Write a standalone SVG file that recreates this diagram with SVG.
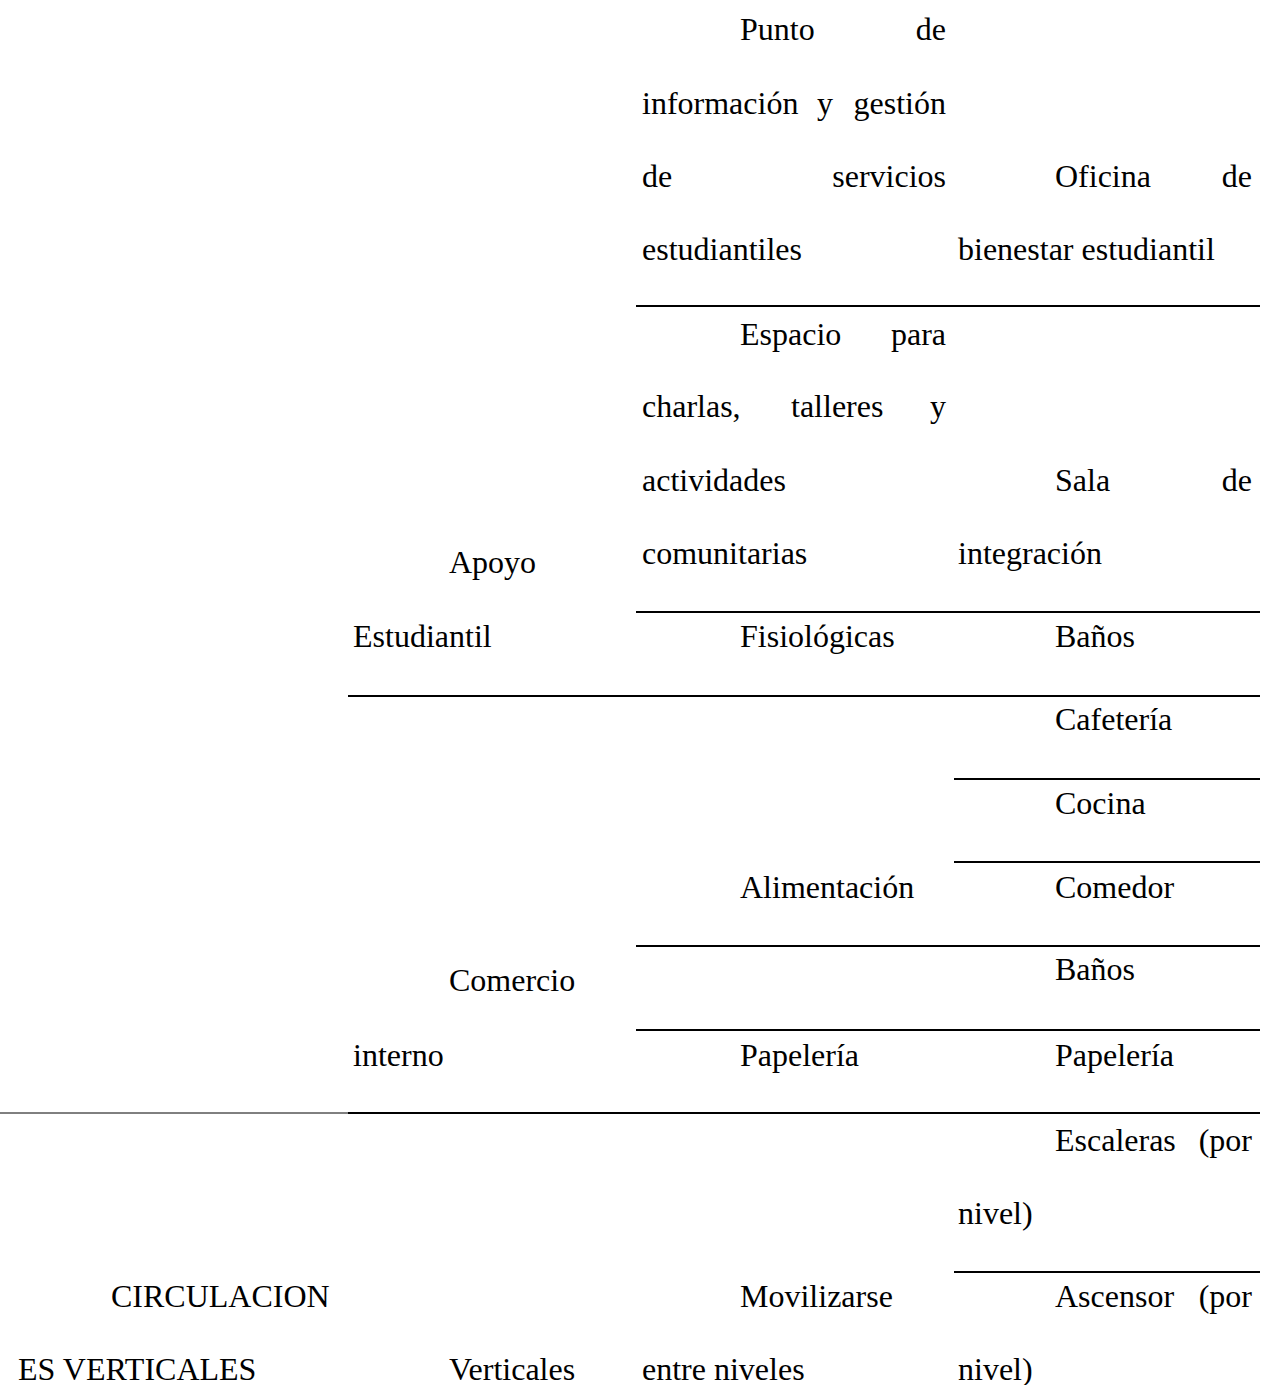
<svg xmlns="http://www.w3.org/2000/svg" width="1262" height="1385" viewBox="0 0 1262 1385">
<style>
text{font-family:"Liberation Serif","Times New Roman",serif;font-size:32px;fill:#000}
.e{text-anchor:end}
.r{stroke:#000;stroke-width:1.8}
.t{stroke:#000;stroke-width:1}
</style>
<rect width="1262" height="1385" fill="#fff"/>
<g id="rules">
<line class="r" x1="636" y1="306" x2="1260" y2="306"/>
<line class="r" x1="636" y1="612" x2="1260" y2="612"/>
<line class="r" x1="348" y1="696" x2="1260" y2="696"/>
<line class="r" x1="954" y1="779" x2="1260" y2="779"/>
<line class="r" x1="954" y1="862" x2="1260" y2="862"/>
<line class="r" x1="636" y1="946" x2="1260" y2="946"/>
<line class="r" x1="636" y1="1030" x2="1260" y2="1030"/>
<line class="t" x1="0" y1="1113" x2="348" y2="1113"/>
<line class="r" x1="348" y1="1113" x2="1260" y2="1113"/>
<line class="r" x1="954" y1="1272" x2="1260" y2="1272"/>
</g>
<g id="punto">
<text x="740" y="40">Punto</text><text class="e" x="946" y="40">de</text>
<text x="642" y="114">información</text><text x="817" y="114">y</text><text class="e" x="946" y="114">gestión</text>
<text x="642" y="187">de</text><text class="e" x="946" y="187">servicios</text>
<text x="642" y="260">estudiantiles</text>
</g>
<g id="oficina">
<text x="1055" y="187">Oficina</text><text class="e" x="1252" y="187">de</text>
<text x="958" y="260">bienestar estudiantil</text>
</g>
<g id="espacio">
<text x="740" y="345">Espacio</text><text class="e" x="946" y="345">para</text>
<text x="642" y="417">charlas,</text><text x="791" y="417">talleres</text><text class="e" x="946" y="417">y</text>
<text x="642" y="491">actividades</text>
<text x="642" y="564">comunitarias</text>
</g>
<g id="sala">
<text x="1055" y="491">Sala</text><text class="e" x="1252" y="491">de</text>
<text x="958" y="564">integración</text>
</g>
<g id="apoyo">
<text x="449" y="573">Apoyo</text>
<text x="353" y="647">Estudiantil</text>
</g>
<g id="fisiologicas"><text x="740" y="647">Fisiológicas</text></g>
<g id="banos1"><text x="1055" y="647">Baños</text></g>
<g id="cafeteria"><text x="1055" y="730">Cafetería</text></g>
<g id="cocina"><text x="1055" y="814">Cocina</text></g>
<g id="alimentacion"><text x="740" y="898">Alimentación</text></g>
<g id="comedor"><text x="1055" y="898">Comedor</text></g>
<g id="banos2"><text x="1055" y="980">Baños</text></g>
<g id="comercio">
<text x="449" y="991">Comercio</text>
<text x="353" y="1066">interno</text>
</g>
<g id="papeleria1"><text x="740" y="1066">Papelería</text></g>
<g id="papeleria2"><text x="1055" y="1066">Papelería</text></g>
<g id="escaleras">
<text x="1055" y="1151">Escaleras</text><text class="e" x="1252" y="1151">(por</text>
<text x="958" y="1224">nivel)</text>
</g>
<g id="circulaciones">
<text x="111" y="1307">CIRCULACION</text>
<text x="18" y="1380">ES VERTICALES</text>
</g>
<g id="verticales"><text x="449" y="1380">Verticales</text></g>
<g id="movilizarse">
<text x="740" y="1307">Movilizarse</text>
<text x="642" y="1380">entre niveles</text>
</g>
<g id="ascensor">
<text x="1055" y="1307">Ascensor</text><text class="e" x="1252" y="1307">(por</text>
<text x="958" y="1380">nivel)</text>
</g>
</svg>
